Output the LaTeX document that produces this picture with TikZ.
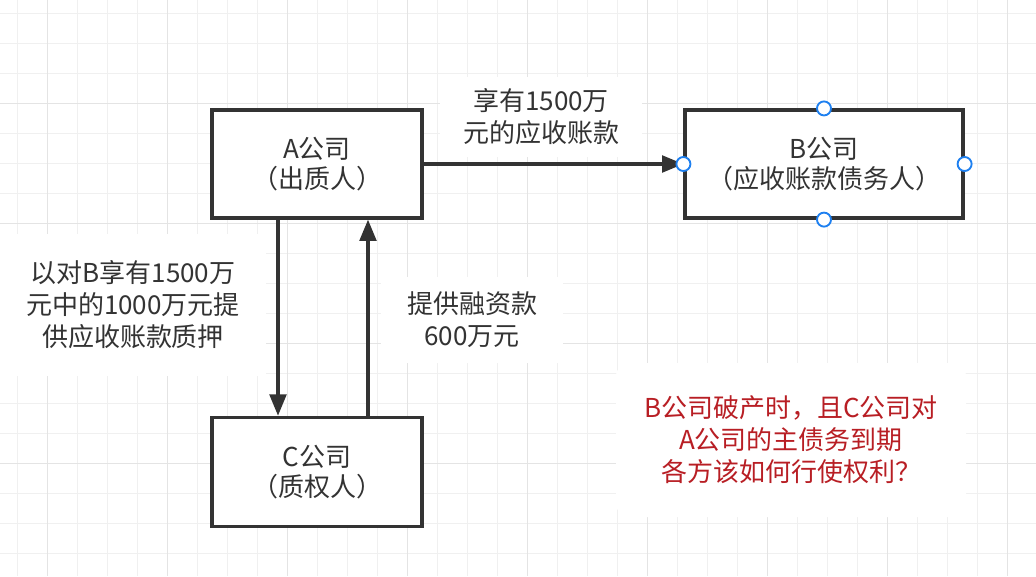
\documentclass[tikz,border=0pt]{standalone}
\usepackage{fontspec}
\setmainfont{Noto Sans CJK SC}
\usetikzlibrary{arrows.meta}
\definecolor{ink}{HTML}{333333}
\definecolor{gridminor}{HTML}{F0F0F0}
\definecolor{gridmajor}{HTML}{E4E4E4}
\definecolor{notered}{RGB}{184,30,36}
\definecolor{handleblue}{RGB}{30,128,240}
\tikzset{
  box/.style={draw=ink, line width=2.4pt, fill=white, minimum width=157.5pt,
    minimum height=81pt, align=center, text=ink, inner sep=0pt,
    font=\fontsize{19.5pt}{22.5pt}\selectfont},
  lbl/.style={fill=white, align=center, text=ink, inner sep=0pt,
    font=\fontsize{19.5pt}{24pt}\selectfont},
  arr/.style={draw=ink, line width=2.4pt, -{Triangle[length=16pt,width=12.5pt]}},
  handle/.style={circle, draw=handleblue, fill=white, line width=1.4pt,
    minimum size=10.5pt, inner sep=0pt},
}
\begin{document}
\begin{tikzpicture}[x=0.75pt,y=-0.75pt]
\useasboundingbox (0,0) rectangle (1036,576);
\fill[white] (0,0) rectangle (1036,576);
% grid
\foreach \i in {0,...,34} \draw[gridminor, line width=0.75pt] ({17+30*\i},0) -- ({17+30*\i},576);
\foreach \j in {0,...,19} \draw[gridminor, line width=0.75pt] (0,{13+30*\j}) -- (1036,{13+30*\j});
\foreach \i in {0,...,8} \draw[gridmajor, line width=0.75pt] ({47+120*\i},0) -- ({47+120*\i},576);
\foreach \j in {0,...,3} \draw[gridmajor, line width=0.75pt] (0,{103+120*\j}) -- (1036,{103+120*\j});

% label backgrounds + text
\node[lbl, minimum width=151.5pt, minimum height=60pt] (l1) at (541,117) {享有1500万\\元的应收账款};
\node[lbl, minimum width=200pt, minimum height=106.5pt] (l2) at (133,305) {以对B享有1500万\\元中的1000万元提\\供应收账款质押};
\node[lbl, minimum width=137pt, minimum height=65pt] (l3) at (472,320) {提供融资款\\600万元};
\node[lbl, text=notered, rounded corners=10pt, minimum width=262.5pt, minimum height=115.5pt] (note) at (791,440) {B公司破产时，且C公司对\\A公司的主债务到期\\各方该如何行使权利？};

% boxes
\node[box] (A) at (317,164) {A公司\\（出质人）};
\node[box, minimum width=208.5pt] (B) at (824,164) {B公司\\（应收账款债务人）};
\node[box, minimum height=82pt] (C) at (317,472) {C公司\\（质权人）};

% connectors
\coordinate (xd) at (278,0);
\coordinate (xu) at (368,0);
\draw[arr] (A.east) -- (B.west);
\draw[arr] (A.south -| xd) -- (C.north -| xd);
\draw[arr] (C.north -| xu) -- (A.south -| xu);

% handles
\node[handle] (hn) at (B.north) {};
\node[handle] (hs) at (B.south) {};
\node[handle] (he) at (B.east) {};
\node[handle] (hw) at (B.west) {};
\end{tikzpicture}
\end{document}
